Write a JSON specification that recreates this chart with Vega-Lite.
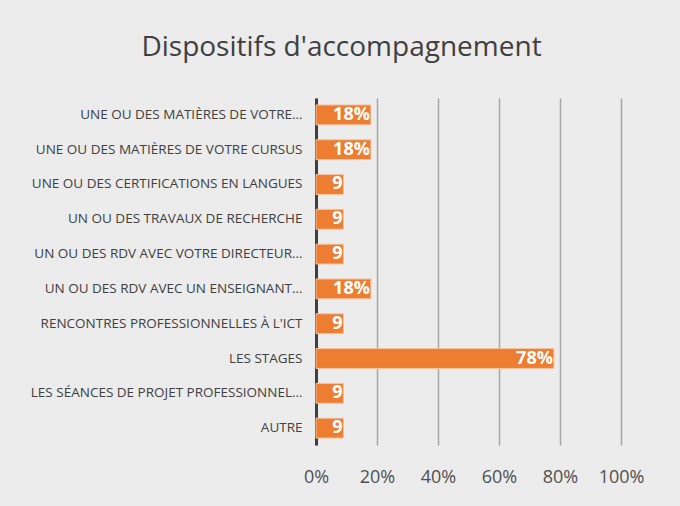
{
  "$schema": "https://vega.github.io/schema/vega-lite/v6.json",
  "autosize": {"type": "none"},
  "width": 305,
  "height": 347,
  "padding": {"left": 316, "top": 98, "right": 59, "bottom": 61},
  "background": "#ececec",
  "title": {
    "text": "Dispositifs d'accompagnement",
    "font": "Open Sans",
    "fontSize": 28,
    "fontWeight": "normal",
    "color": "#404040",
    "anchor": "middle",
    "dx": -127,
    "offset": 36
  },
  "data": {
    "values": [
      {"cat": "UNE OU DES MATIÈRES DE VOTRE…", "v": 0.18, "lab": "18%"},
      {"cat": "UNE OU DES MATIÈRES DE VOTRE CURSUS", "v": 0.18, "lab": "18%"},
      {"cat": "UNE OU DES CERTIFICATIONS EN LANGUES", "v": 0.09, "lab": "9"},
      {"cat": "UN OU DES TRAVAUX DE RECHERCHE", "v": 0.09, "lab": "9"},
      {"cat": "UN OU DES RDV AVEC VOTRE DIRECTEUR…", "v": 0.09, "lab": "9"},
      {"cat": "UN OU DES RDV AVEC UN ENSEIGNANT…", "v": 0.18, "lab": "18%"},
      {"cat": "RENCONTRES PROFESSIONNELLES À L'ICT", "v": 0.09, "lab": "9"},
      {"cat": "LES STAGES", "v": 0.78, "lab": "78%"},
      {"cat": "LES SÉANCES DE PROJET PROFESSIONNEL…", "v": 0.09, "lab": "9"},
      {"cat": "AUTRE", "v": 0.09, "lab": "9"}
    ]
  },
  "encoding": {
    "y": {
      "field": "cat",
      "type": "nominal",
      "sort": null,
      "scale": {"paddingInner": 0.43, "paddingOuter": 0.2},
      "axis": {
        "title": null,
        "ticks": false,
        "labelPadding": 14,
        "labelFont": "Open Sans",
        "labelFontSize": 13.5,
        "labelColor": "#404040",
        "labelLimit": 320,
        "domainColor": "#404040",
        "domainWidth": 3
      }
    }
  },
  "layer": [
    {
      "mark": {"type": "bar", "fill": "#ED7D31", "stroke": "#f6c3a0", "strokeWidth": 1},
      "encoding": {
        "x": {
          "field": "v",
          "type": "quantitative",
          "scale": {"domain": [0, 1], "nice": false},
          "axis": {
            "title": null,
            "format": ".0%",
            "values": [0, 0.2, 0.4, 0.6, 0.8, 1],
            "labelOverlap": false,
            "labelFlush": false,
            "labelBound": false,
            "domain": false,
            "ticks": false,
            "grid": true,
            "gridColor": "#a6a6a6",
            "gridWidth": 1.5,
            "labelPadding": 23,
            "labelFont": "Open Sans",
            "labelFontSize": 18,
            "labelColor": "#505050"
          }
        }
      }
    },
    {
      "mark": {"type": "text", "align": "right", "dx": -1, "font": "Open Sans", "fontSize": 18, "fontWeight": "bold", "color": "#ffffff"},
      "encoding": {
        "x": {"field": "v", "type": "quantitative"},
        "text": {"field": "lab"}
      }
    }
  ],
  "config": {"view": {"stroke": null}}
}
